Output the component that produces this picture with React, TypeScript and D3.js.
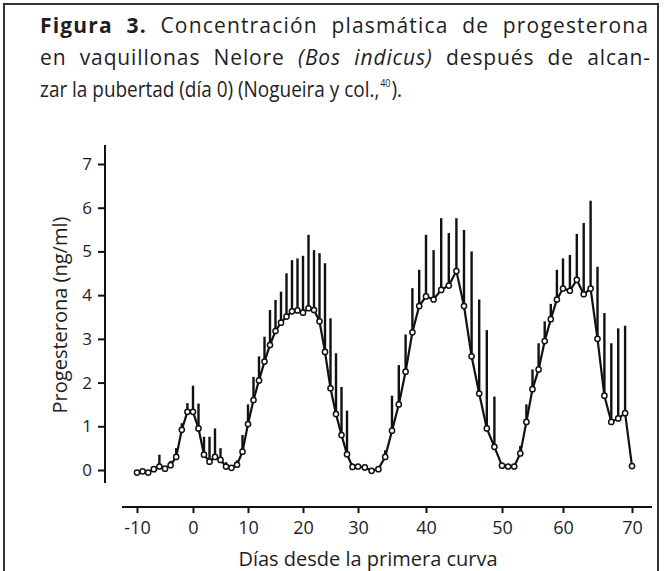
import { useEffect, useRef } from "react";
import * as d3 from "d3";

// days since first curve (x)
const days = [
  -10, -9, -8, -7, -6, -5, -4, -3, -2, -1,
  0, 1, 2, 3, 4, 5, 6, 7, 8, 9,
  10, 11, 12, 13, 14, 15, 16, 17, 18, 19,
  20, 21, 22, 23, 24, 25, 26, 27, 28, 29,
  30, 31, 32, 33, 34, 35, 36, 37, 38, 39,
  40, 41, 42, 43, 44, 45, 46, 47, 48, 49,
  50, 51, 52, 53, 54, 55, 56, 57, 58, 59,
  60, 61, 62, 63, 64, 65, 66, 67, 68, 69,
  70,
];

// mean progesterone (ng/ml)
const meanValues = [
  -0.06, -0.03, -0.06, 0.02, 0.08, 0.03, 0.11, 0.3, 0.92, 1.33,
  1.33, 0.95, 0.35, 0.19, 0.3, 0.23, 0.08, 0.05, 0.12, 0.42,
  1.05, 1.6, 2.05, 2.48, 2.86, 3.18, 3.37, 3.51, 3.63, 3.65,
  3.6, 3.7, 3.66, 3.4, 2.7, 1.87, 1.28, 0.8, 0.36, 0.07,
  0.08, 0.06, -0.02, 0.02, 0.3, 0.9, 1.5, 2.25, 3.15, 3.75,
  3.97, 3.9, 4.12, 4.22, 4.55, 3.75, 2.6, 1.75, 0.95, 0.53,
  0.1, 0.08, 0.08, 0.38, 1.1, 1.85, 2.3, 2.95, 3.45, 3.9,
  4.15, 4.1, 4.35, 4.02, 4.15, 3.0, 1.7, 1.1, 1.18, 1.3,
  0.09,
];

// standard error (upper bar only)
const seValues = [
  0.02, 0.03, 0.03, 0.05, 0.27, 0.05, 0.1, 0.2, 0.15, 0.2,
  0.6, 0.57, 0.41, 0.57, 0.65, 0.27, 0.1, 0.05, 0.1, 0.38,
  0.45, 0.53, 0.55, 0.57, 0.8, 0.71, 0.71, 0.99, 1.17, 1.19,
  1.3, 1.68, 1.37, 1.56, 2.03, 1.6, 1.39, 1.1, 1.0, 0.08,
  0.03, 0.03, 0.03, 0.05, 0.15, 0.8, 0.9, 0.85, 1.01, 0.83,
  1.41, 1.13, 1.64, 1.2, 1.21, 1.74, 2.4, 2.15, 2.25, 1.15,
  0.05, 0.03, 0.03, 0.17, 0.4, 0.45, 0.6, 0.45, 0.35, 0.68,
  0.69, 0.82, 1.05, 1.63, 2.01, 1.65, 1.89, 1.8, 2.06, 2.0,
  0,
];

const xTicks = [-10, 0, 10, 20, 30, 40, 50, 60, 70];
const yTicks = [0, 1, 2, 3, 4, 5, 6, 7];

const FONT = "'Open Sans', 'Noto Sans', sans-serif";

// justify a caption line: a little extra word gap, the rest as letter spacing
function fitLine(sel: any, target: number) {
  const node = sel.node() as SVGTextElement;
  const w = node.getComputedTextLength();
  const spaces = (node.textContent || "").split(" ").length - 1;
  if (w < target && spaces > 0) {
    const ws = Math.min((target - w) / spaces, 7);
    sel.attr("word-spacing", ws);
  }
  sel
    .attr("textLength", target)
    .attr("lengthAdjust", w > target ? "spacingAndGlyphs" : "spacing");
}

export default function App() {
  const ref = useRef<SVGSVGElement | null>(null);

  useEffect(() => {
    if (!ref.current) return;
    const svg = d3.select(ref.current);
    svg.selectAll("*").remove();

    const data = days.map((d, i) => ({
      day: d,
      mean: meanValues[i],
      se: seValues[i],
    }));

    // the printed axis is not evenly spaced, so map each tick to where it sits
    const x = d3
      .scaleLinear()
      .domain(xTicks)
      .range([137, 193, 248, 303, 358, 426, 502, 563, 632]);
    const y = d3.scaleLinear().domain([0, 7]).range([470, 164]);

    svg
      .append("rect")
      .attr("width", 664)
      .attr("height", 571)
      .attr("fill", "#fff");

    // frame
    svg
      .append("rect")
      .attr("x", 4)
      .attr("y", 4)
      .attr("width", 654)
      .attr("height", 620)
      .attr("fill", "none")
      .attr("stroke", "#333")
      .attr("stroke-width", 2);

    // caption
    const cap = svg
      .append("g")
      .attr("font-family", FONT)
      .attr("font-size", 21)
      .attr("fill", "#1e1e1e");

    const l1 = cap.append("text").attr("x", 40).attr("y", 33);
    l1.append("tspan").attr("font-weight", 700).text("Figura 3.");
    l1.append("tspan").text(" Concentración plasmática de progesterona");

    const l2 = cap.append("text").attr("x", 40).attr("y", 65);
    l2.append("tspan").text("en vaquillonas Nelore ");
    l2.append("tspan").attr("font-style", "italic").text("(Bos indicus)");
    l2.append("tspan").text(" después de alcan-");

    const l3 = cap.append("text").attr("x", 40).attr("y", 97);
    l3.append("tspan").text("zar la pubertad (día 0) (Nogueira y col.,");
    l3.append("tspan")
      .attr("font-size", 10)
      .attr("dy", -10)
      .attr("dx", 1)
      .text("40");
    l3.append("tspan").attr("dy", 10).attr("dx", 1).text(").");

    fitLine(l1, 608);
    fitLine(l2, 610);
    fitLine(l3, 362);

    // y axis
    svg
      .append("line")
      .attr("x1", 105)
      .attr("x2", 105)
      .attr("y1", 145)
      .attr("y2", 483)
      .attr("stroke", "#111")
      .attr("stroke-width", 2);

    const yAxis = svg
      .append("g")
      .attr("transform", "translate(105,0)")
      .call(
        d3
          .axisLeft(y)
          .tickValues(yTicks)
          .tickSize(7)
          .tickPadding(6)
          .tickFormat((d) => String(d))
      );
    yAxis.select(".domain").remove();
    yAxis.selectAll("line").attr("stroke", "#111").attr("stroke-width", 2);
    yAxis
      .selectAll("text")
      .attr("font-family", FONT)
      .attr("font-size", 17)
      .attr("fill", "#1e1e1e");

    // x axis
    svg
      .append("line")
      .attr("x1", 122)
      .attr("x2", 652)
      .attr("y1", 507)
      .attr("y2", 507)
      .attr("stroke", "#111")
      .attr("stroke-width", 2);

    const xAxis = svg
      .append("g")
      .attr("transform", "translate(0,507)")
      .call(
        d3
          .axisBottom(x)
          .tickValues(xTicks)
          .tickSize(6)
          .tickPadding(8)
          .tickFormat((d) => String(d).replace("−", "-"))
      );
    xAxis.select(".domain").remove();
    xAxis.selectAll("line").attr("stroke", "#111").attr("stroke-width", 2);
    xAxis
      .selectAll("text")
      .attr("font-family", FONT)
      .attr("font-size", 18)
      .attr("fill", "#1e1e1e");

    // axis titles
    svg
      .append("text")
      .attr("transform", "translate(67,315) rotate(-90)")
      .attr("text-anchor", "middle")
      .attr("font-family", FONT)
      .attr("font-size", 20)
      .attr("fill", "#1e1e1e")
      .text("Progesterona (ng/ml)");

    svg
      .append("text")
      .attr("x", 368)
      .attr("y", 566)
      .attr("text-anchor", "middle")
      .attr("font-family", FONT)
      .attr("font-size", 20)
      .attr("fill", "#1e1e1e")
      .text("Días desde la primera curva");

    // error bars (upper only)
    svg
      .append("g")
      .selectAll("line")
      .data(data.filter((d) => d.se > 0))
      .join("line")
      .attr("x1", (d) => x(d.day))
      .attr("x2", (d) => x(d.day))
      .attr("y1", (d) => y(d.mean))
      .attr("y2", (d) => y(d.mean + d.se))
      .attr("stroke", "#111")
      .attr("stroke-width", 2.4);

    // mean line
    const line = d3
      .line<{ day: number; mean: number }>()
      .x((d) => x(d.day))
      .y((d) => y(d.mean));

    svg
      .append("path")
      .datum(data)
      .attr("d", line)
      .attr("fill", "none")
      .attr("stroke", "#111")
      .attr("stroke-width", 2.2);

    // markers
    svg
      .append("g")
      .selectAll("circle")
      .data(data)
      .join("circle")
      .attr("cx", (d) => x(d.day))
      .attr("cy", (d) => y(d.mean))
      .attr("r", 2.6)
      .attr("fill", "#fff")
      .attr("stroke", "#111")
      .attr("stroke-width", 1.5);
  }, []);

  return (
    <svg
      ref={ref}
      width={664}
      height={571}
      style={{ position: "absolute", left: 0, top: 0, display: "block" }}
    />
  );
}
